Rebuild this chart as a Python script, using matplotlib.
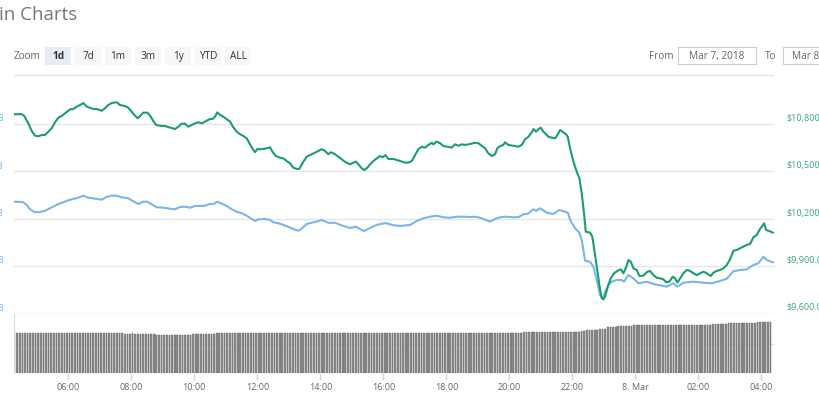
"""Bitcoin 1d chart (Mar 7 - Mar 8, 2018): price USD, market cap, 24h volume."""
import numpy as np
import matplotlib
matplotlib.use("Agg")
import matplotlib.pyplot as plt
from matplotlib.patches import Rectangle

plt.rcParams['font.family'] = ['Open Sans', 'DejaVu Sans']

# hours since Mar 7 00:00
price_hours = [
    4.276, 4.521, 4.594, 4.730, 4.838, 4.943, 5.048, 5.156, 5.260, 5.365, 5.473, 5.578,
    5.683, 5.790, 5.895, 6.054, 6.159, 6.267, 6.371, 6.476, 6.584, 6.689, 6.794, 6.902,
    7.060, 7.165, 7.270, 7.378, 7.537, 7.641, 7.800, 7.905, 8.013, 8.117, 8.203, 8.308,
    8.381, 8.508, 8.594, 8.698, 8.784, 8.911, 9.070, 9.229, 9.387, 9.492, 9.600, 9.705,
    9.810, 9.917, 10.022, 10.127, 10.235, 10.394, 10.498, 10.584, 10.657, 10.730, 10.816,
    10.921, 11.029, 11.133, 11.238, 11.346, 11.451, 11.556, 11.663, 11.768, 11.873, 11.927,
    12.000, 12.140, 12.298, 12.403, 12.489, 12.594, 12.721, 12.825, 12.933, 13.038, 13.143,
    13.251, 13.333, 13.460, 13.568, 13.673, 13.832, 13.937, 14.044, 14.149, 14.254, 14.340,
    14.467, 14.571, 14.679, 14.806, 14.943, 15.048, 15.133, 15.206, 15.314, 15.387, 15.473,
    15.578, 15.683, 15.790, 15.895, 15.981, 16.063, 16.159, 16.317, 16.425, 16.530, 16.584,
    16.689, 16.794, 16.902, 17.006, 17.111, 17.219, 17.324, 17.429, 17.537, 17.587, 17.695,
    17.800, 17.905, 18.032, 18.171, 18.276, 18.381, 18.489, 18.594, 18.752, 18.911, 19.016,
    19.124, 19.229, 19.333, 19.441, 19.546, 19.619, 19.705, 19.810, 19.863, 19.968, 20.127,
    20.286, 20.394, 20.498, 20.603, 20.711, 20.762, 20.848, 20.921, 20.997, 21.079, 21.165,
    21.238, 21.346, 21.451, 21.537, 21.610, 21.714, 21.800, 21.854, 21.927, 22.032, 22.140,
    22.222, 22.298, 22.381, 22.425, 22.562, 22.635, 22.698, 22.775, 22.857, 22.933, 22.984,
    23.038, 23.124, 23.219, 23.324, 23.429, 23.537, 23.619, 23.705, 23.778, 23.854, 23.937,
    24.044, 24.127, 24.254, 24.381, 24.467, 24.571, 24.679, 24.784, 24.889, 24.975, 25.079,
    25.187, 25.260, 25.333, 25.419, 25.524, 25.632, 25.737, 25.841, 25.949, 26.054, 26.159,
    26.267, 26.394, 26.476, 26.584, 26.689, 26.794, 26.902, 27.006, 27.111, 27.219, 27.324,
    27.429, 27.537, 27.641, 27.746, 27.854, 27.937, 28.013, 28.086, 28.149, 28.254, 28.362,
]
price_usd = [
    10862, 10862, 10853, 10804, 10756, 10726, 10722, 10730, 10730, 10751, 10773, 10811,
    10840, 10851, 10868, 10893, 10895, 10910, 10920, 10933, 10910, 10903, 10895, 10895,
    10884, 10900, 10920, 10933, 10938, 10920, 10914, 10903, 10878, 10853, 10836, 10857,
    10872, 10872, 10853, 10819, 10794, 10789, 10787, 10777, 10768, 10783, 10802, 10802,
    10783, 10794, 10804, 10811, 10804, 10821, 10832, 10832, 10846, 10874, 10857,
    10846, 10830, 10815, 10779, 10751, 10735, 10724, 10709, 10671, 10635, 10621,
    10641, 10640, 10646, 10652, 10621, 10597, 10586, 10582, 10565, 10551, 10523,
    10515, 10515, 10561, 10593, 10603, 10618, 10629, 10640, 10629, 10608, 10621,
    10608, 10593, 10576, 10557, 10544, 10555, 10561, 10544, 10519, 10508, 10519,
    10544, 10565, 10582, 10597, 10589, 10603, 10578, 10578, 10572, 10565, 10561,
    10555, 10555, 10565, 10603, 10640, 10656, 10650, 10667, 10681, 10671, 10688,
    10678, 10660, 10656, 10650, 10671, 10662, 10671, 10667, 10673, 10681, 10678,
    10662, 10646, 10614, 10597, 10608, 10646, 10660, 10667, 10684, 10667, 10662,
    10656, 10667, 10703, 10719, 10747, 10768, 10751, 10766, 10777, 10751, 10735,
    10719, 10713, 10709, 10735, 10762, 10747, 10735, 10719, 10646, 10561, 10497,
    10456, 10360, 10212, 10117, 10111, 10085, 10001, 9895, 9779, 9695, 9688,
    9705, 9768, 9821, 9853, 9868, 9879, 9853, 9891, 9937, 9927, 9885,
    9874, 9836, 9838, 9863, 9868, 9842, 9825, 9821, 9815, 9796, 9800,
    9832, 9821, 9794, 9821, 9853, 9874, 9868, 9853, 9842, 9853, 9863,
    9853, 9836, 9857, 9868, 9874, 9885, 9906, 9942, 9996, 10001, 10012,
    10022, 10033, 10039, 10081, 10096, 10128, 10149, 10170, 10128, 10121, 10111,
]

cap_hours = [
    4.276, 4.552, 4.679, 4.784, 4.943, 5.102, 5.260, 5.419, 5.578, 5.737, 5.841, 6.000,
    6.159, 6.317, 6.476, 6.635, 6.848, 7.060, 7.219, 7.378, 7.537, 7.695, 7.905, 8.086,
    8.222, 8.381, 8.508, 8.648, 8.806, 9.016, 9.229, 9.387, 9.546, 9.705, 9.863, 10.022,
    10.181, 10.340, 10.498, 10.603, 10.730, 10.870, 11.029, 11.187, 11.346, 11.505, 11.663,
    11.822, 11.927, 12.032, 12.244, 12.403, 12.508, 12.667, 12.825, 13.038, 13.251, 13.333,
    13.568, 13.832, 14.044, 14.254, 14.467, 14.679, 14.943, 15.133, 15.314, 15.387, 15.578,
    15.790, 16.063, 16.317, 16.530, 16.848, 17.060, 17.270, 17.483, 17.695, 17.905, 18.117,
    18.330, 18.540, 18.752, 18.911, 19.070, 19.229, 19.387, 19.600, 19.759, 19.917, 20.127,
    20.286, 20.444, 20.603, 20.762, 20.848, 20.975, 21.187, 21.397, 21.578, 21.768, 21.863,
    21.927, 22.086, 22.222, 22.298, 22.403, 22.562, 22.667, 22.775, 22.879, 22.965, 23.038,
    23.143, 23.251, 23.410, 23.568, 23.641, 23.778, 23.937, 24.095, 24.362, 24.571, 24.889,
    24.997, 25.206, 25.333, 25.524, 25.841, 26.159, 26.425, 26.689, 26.902, 27.111, 27.324,
    27.537, 27.746, 27.905, 28.063, 28.171, 28.362,
]
cap_bn = [
    183.57, 183.51, 182.88, 181.97, 181.33, 181.40, 181.67, 182.18, 182.73, 183.24, 183.45, 183.87,
    184.14, 184.42, 184.84, 184.42, 184.21, 184.00, 184.57, 184.84, 184.84, 184.50, 184.29, 183.57,
    183.09, 183.57, 183.57, 183.02, 182.39, 182.31, 182.09, 181.97, 182.45, 182.52, 182.31, 182.67,
    182.67, 182.73, 183.09, 183.09, 183.57, 183.15, 182.67, 181.97, 181.46, 181.12, 180.61,
    179.92, 179.49, 179.85, 179.92, 179.71, 179.22, 179.01, 178.67, 178.12, 177.49, 177.49,
    178.86, 179.30, 179.68, 179.11, 179.11, 178.56, 178.01, 178.29, 177.57, 177.38, 178.01,
    178.67, 179.05, 178.61, 178.44, 178.65, 179.49, 180.07, 180.40, 180.61, 180.26, 180.19,
    180.40, 180.40, 180.34, 180.40, 180.19, 179.79, 179.35, 180.07, 180.34, 180.40, 180.28,
    180.30, 180.91, 181.06, 181.97, 181.63, 182.18, 181.25, 180.97, 181.82, 181.46, 181.19,
    179.71, 177.95, 177.02, 175.48, 171.10, 170.89, 169.83, 167.02, 163.85, 163.15, 164.55,
    165.96, 166.66, 167.02, 167.02, 166.66, 168.08, 167.38, 166.32, 166.66, 166.18, 165.75,
    165.61, 166.32, 165.61, 166.45, 166.66, 166.45, 166.32, 166.81, 167.30, 168.86, 169.14,
    169.28, 170.19, 170.55, 171.95, 171.25, 170.76,
]

# 24h volume, one bar per 5 minutes from 04:20 (one row per hour)
vol_start = 4 + 20 / 60
vol_bn = [
    6.75, 6.78, 6.85, 6.85, 6.72, 6.70, 6.80, 6.86, 6.86, 6.78, 6.72, 6.72,
    6.72, 6.70, 6.72, 6.74, 6.72, 6.70, 6.72, 6.72, 6.70, 6.72, 6.74, 6.72,
    6.72, 6.72, 6.74, 6.72, 6.72, 6.70, 6.72, 6.72, 6.70, 6.72, 6.72, 6.72,
    6.72, 6.72, 6.70, 6.72, 6.72, 6.66, 6.64, 6.68, 6.70, 6.66, 6.64, 6.64,
    6.64, 6.62, 6.60, 6.62, 6.60, 6.50, 6.46, 6.44, 6.44, 6.46, 6.44, 6.44,
    6.44, 6.46, 6.44, 6.44, 6.48, 6.50, 6.52, 6.54, 6.56, 6.56, 6.58, 6.58,
    6.58, 6.60, 6.62, 6.66, 6.70, 6.72, 6.74, 6.74, 6.74, 6.74, 6.74, 6.76,
    6.76, 6.76, 6.74, 6.76, 6.76, 6.78, 6.76, 6.76, 6.78, 6.80, 6.80, 6.82,
    6.84, 6.82, 6.82, 6.84, 6.82, 6.82, 6.84, 6.84, 6.82, 6.84, 6.86, 6.84,
    6.84, 6.86, 6.84, 6.84, 6.86, 6.86, 6.84, 6.84, 6.86, 6.86, 6.84, 6.84,
    6.84, 6.84, 6.82, 6.84, 6.84, 6.86, 6.86, 6.84, 6.84, 6.82, 6.84, 6.84,
    6.84, 6.84, 6.86, 6.84, 6.84, 6.82, 6.82, 6.84, 6.84, 6.84, 6.86, 6.84,
    6.84, 6.82, 6.82, 6.84, 6.84, 6.84, 6.82, 6.82, 6.84, 6.84, 6.82, 6.82,
    6.82, 6.82, 6.80, 6.82, 6.82, 6.80, 6.80, 6.82, 6.82, 6.80, 6.80, 6.80,
    6.80, 6.80, 6.82, 6.80, 6.80, 6.78, 6.80, 6.80, 6.80, 6.78, 6.78, 6.80,
    6.78, 6.78, 6.80, 6.80, 6.78, 6.78, 6.80, 6.80, 6.82, 6.82, 6.84, 6.84,
    6.86, 6.88, 6.90, 6.92, 6.92, 6.94, 6.94, 6.94, 6.96, 6.94, 6.94, 6.96,
    6.96, 6.96, 6.98, 6.96, 6.96, 6.98, 6.98, 6.96, 6.98, 7.00, 7.02, 7.05,
    7.15, 7.25, 7.28, 7.30, 7.32, 7.35, 7.38, 7.40, 7.50, 7.75, 7.80, 7.82,
    7.85, 7.90, 7.95, 8.00, 8.02, 8.05, 8.05, 8.08, 8.10, 8.12, 8.15, 8.18,
    8.18, 8.19, 8.19, 8.20, 8.19, 8.19, 8.20, 8.20, 8.19, 8.20, 8.20, 8.20,
    8.20, 8.20, 8.19, 8.20, 8.20, 8.20, 8.21, 8.20, 8.20, 8.20, 8.21, 8.22,
    8.22, 8.24, 8.30, 8.34, 8.36, 8.36, 8.38, 8.40, 8.42, 8.44, 8.45, 8.45,
    8.46, 8.46, 8.48, 8.50, 8.52, 8.55, 8.60, 8.62, 8.64, 8.65, 8.65, 8.66,
]

usd_ticks = [9600, 9900, 10200, 10500, 10800]
cap_ticks = [160, 170, 180, 190, 200]
hour_ticks = [6, 8, 10, 12, 14, 16, 18, 20, 22, 24, 26, 28]
hour_labels = ['06:00', '08:00', '10:00', '12:00', '14:00', '16:00',
               '18:00', '20:00', '22:00', '8. Mar', '02:00', '04:00']
zoom_buttons = ['1d', '7d', '1m', '3m', '1y', 'YTD', 'ALL']

GREEN = '#1a9e6e'
BLUE = '#7cb5ec'
GRID = '#e6e6e6'

W, H = 820, 394
fig = plt.figure(figsize=(W / 100, H / 100), dpi=100)


def px_rect(x0, y0, x1, y1):
    # pixel box (origin top-left) -> figure fraction [l, b, w, h]
    return [x0 / W, 1 - y1 / H, (x1 - x0) / W, (y1 - y0) / H]


X0, X1 = 14, 775
T0, T1 = 4.276, 28.432

# main price panel: market cap (left scale) below, price (right scale) on top
ax_cap = fig.add_axes(px_rect(X0, 80, X1, 313.2))
ax_cap.set_xlim(T0, T1)
ax_cap.set_ylim(160, 209.3)
ax_cap.axis('off')
for v in cap_ticks:
    ax_cap.axhline(v, color=GRID, lw=1.0, zorder=0)
    ax_cap.annotate(f'${v}B', xy=(0, v), xycoords=('axes fraction', 'data'),
                    xytext=(-10.5, 5.5), textcoords='offset pixels',
                    ha='right', va='center', fontsize=6.5, color=BLUE,
                    annotation_clip=False)
ax_cap.plot(cap_hours, cap_bn, color=BLUE, lw=1.5, solid_joinstyle='round')

ax_usd = ax_cap.twinx()
ax_usd.set_xlim(T0, T1)
ax_usd.set_ylim(9600, 11079)
ax_usd.axis('off')
for v in usd_ticks:
    ax_usd.annotate(f'${v:,}.00', xy=(1, v), xycoords=('axes fraction', 'data'),
                    xytext=(11.7, 5.5), textcoords='offset pixels',
                    ha='left', va='center', fontsize=6.5, color='#3aa57e',
                    annotation_clip=False)
ax_usd.plot(price_hours, price_usd, color=GREEN, lw=1.5, solid_joinstyle='round')

# volume panel
axv = fig.add_axes(px_rect(X0, 314, X1, 373))
axv.set_xlim(T0, T1)
axv.set_ylim(0, 10)
bar_x = vol_start + (np.arange(len(vol_bn)) + 0.5) / 12
axv.bar(bar_x, vol_bn, width=0.055, color='#8c8c8c', edgecolor='#666666',
        linewidth=0.3, zorder=2)
axv.axhline(5, color=GRID, lw=0.8, zorder=0)
for side in ['top', 'right', 'bottom']:
    axv.spines[side].set_visible(False)
axv.spines['left'].set_color('#d8d8d8')
axv.set_yticks([])
axv.set_xticks(hour_ticks, hour_labels)
axv.tick_params(axis='x', length=5, width=1, color='#ccd6eb', pad=2,
                labelsize=6.5, labelcolor='#666666')

# header controls, drawn in pixel coordinates
ov = fig.add_axes([0, 0, 1, 1], zorder=5)
ov.set_xlim(0, W)
ov.set_ylim(H, 0)
ov.axis('off')

ov.text(-1, 15, 'in Charts', fontsize=13.5, color='#777777', va='center', ha='left')
ov.text(14, 56, 'Zoom', fontsize=7.2, color='#666666', va='center', ha='left')
for k, label in enumerate(zoom_buttons):
    bx = 45 + 30 * k
    face = '#e6ebf5' if k == 0 else '#f7f7f7'
    ov.add_patch(Rectangle((bx, 47), 26, 18, facecolor=face, edgecolor='none'))
    ov.text(bx + 13, 56, label, fontsize=7.2, color='#333333', va='center', ha='center',
            fontweight='bold' if k == 0 else 'normal')

ov.text(649, 56, 'From', fontsize=7.2, color='#666666', va='center', ha='left')
ov.add_patch(Rectangle((678.3, 47.3), 77.4, 17, facecolor='white',
                       edgecolor='#cccccc', lw=0.8))
ov.text(717, 56, 'Mar 7, 2018', fontsize=7.2, color='#666666', va='center', ha='center')
ov.text(765, 56, 'To', fontsize=7.2, color='#666666', va='center', ha='left')
ov.add_patch(Rectangle((783, 47.3), 77.4, 17, facecolor='white',
                       edgecolor='#cccccc', lw=0.8))
ov.text(792, 56, 'Mar 8, 2018', fontsize=7.2, color='#666666', va='center', ha='left')
ov.plot([14, 773], [75, 75], color=GRID, lw=1.0)

fig.savefig('out.png', dpi=100)
